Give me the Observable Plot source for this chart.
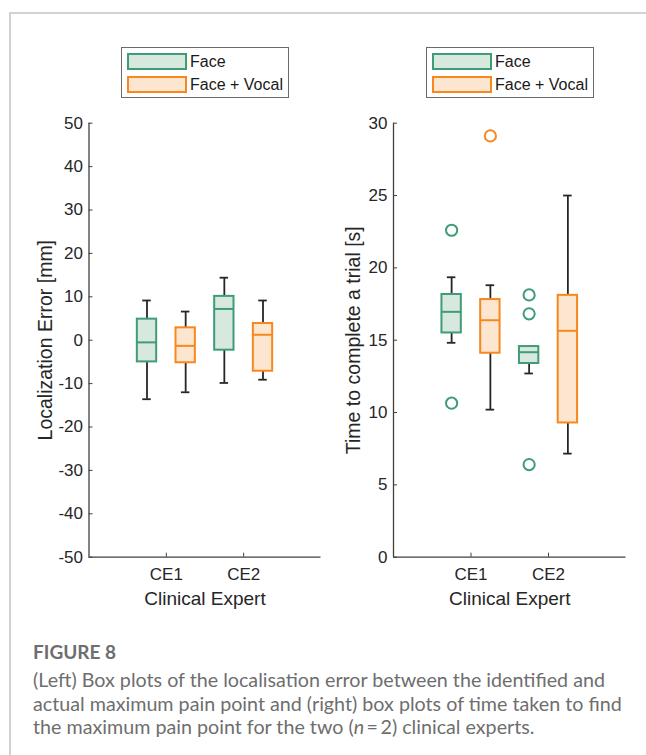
<!DOCTYPE html>
<html><head><meta charset="utf-8">
<script src="https://cdn.jsdelivr.net/npm/d3@7"></script>
<script src="https://cdn.jsdelivr.net/npm/@observablehq/plot@0.6"></script>
<style>
body{margin:0;background:#fff;}
#wrap{position:relative;width:646px;height:755px;overflow:hidden;font-family:"Liberation Sans",Arial,sans-serif;}
.frame{position:absolute;left:9px;top:12px;width:700px;height:800px;border-top:2px solid #d2d2d2;border-left:2px solid #d2d2d2;}
.panel{position:absolute;top:0;}
.legend{position:absolute;top:47px;width:168px;height:51px;border:1px solid #6a6a6a;background:#fff;box-sizing:border-box;}
.sw{position:absolute;left:5px;width:60px;height:17px;border:2px solid;box-sizing:border-box;}
.lt{position:absolute;left:68px;font-size:16px;line-height:17px;color:#1a1a1a;}
.cap{position:absolute;left:33px;top:640px;font-family:Lato,"Open Sans",sans-serif;color:#6e6e6e;}
.cap .fig{font-size:19px;font-weight:700;line-height:24px;margin-bottom:4px;}
.cap .txt{font-size:19.7px;line-height:23.5px;}
</style></head>
<body><div id="wrap"><div class="frame"></div></div>
<script>
// ---- data ----
const experts = ["CE1", "CE2"];
const conditions = ["Face", "Face + Vocal"];
const boxExpert = ["CE1", "CE1", "CE2", "CE2"];
const boxCondition = ["Face", "Face + Vocal", "Face", "Face + Vocal"];
// Localization error [mm]
const errLow  = [-13.6, -12.0, -9.85, -9.1];
const errQ1   = [-5.0, -5.2, -2.3, -7.15];
const errMed  = [-0.5, -1.3, 7.2, 1.25];
const errQ3   = [4.85, 2.85, 10.1, 3.85];
const errHigh = [9.15, 6.6, 14.4, 9.15];
// Time to complete a trial [s]
const timeLow  = [14.82, 10.2, 12.7, 7.16];
const timeQ1   = [15.5, 14.1, 13.39, 9.28];
const timeMed  = [16.96, 16.38, 14.17, 15.65];
const timeQ3   = [18.16, 17.81, 14.56, 18.1];
const timeHigh = [19.35, 18.8, 14.56, 25.0];
const timeOutExpert    = ["CE1", "CE1", "CE1", "CE2", "CE2", "CE2"];
const timeOutCondition = ["Face", "Face", "Face + Vocal", "Face", "Face", "Face"];
const timeOutValue     = [22.6, 10.65, 29.12, 18.13, 16.82, 6.4];
const errTicks  = [-50, -40, -30, -20, -10, 0, 10, 20, 30, 40, 50];
const timeTicks = [0, 5, 10, 15, 20, 25, 30];

// ---- style ----
const strokeCol = {"Face": "#3f9c76", "Face + Vocal": "#f7871e"};
const fillCol = {"Face": "#d7e8df", "Face + Vocal": "#fde6cf"};
const offset = {"Face": -0.25, "Face + Vocal": 0.25};
const bw = 0.125, capW = 0.055;
const whisk = "#262626", axisCol = "#404040";

function pos(e, c) { return experts.indexOf(e) + 1 + offset[c]; }

function panel(o) {
  const rows = boxExpert.map((e, i) => ({e, c: boxCondition[i], pos: pos(e, boxCondition[i]),
    low: o.low[i], q1: o.q1[i], med: o.med[i], q3: o.q3[i], high: o.high[i]}));
  const outs = (o.outE || []).map((e, i) => ({e, c: o.outC[i], pos: pos(e, o.outC[i]), v: o.outV[i]}));
  const xDom = [0, experts.length + 1];
  const marks = [
    Plot.ruleX(rows, {x: "pos", y1: "low", y2: "q1", stroke: whisk, strokeWidth: 1.8}),
    Plot.ruleX(rows, {x: "pos", y1: "q3", y2: "high", stroke: whisk, strokeWidth: 1.8}),
    Plot.ruleY(rows, {y: "low", x1: d => d.pos - capW, x2: d => d.pos + capW, stroke: whisk, strokeWidth: 1.8}),
    Plot.ruleY(rows, {y: "high", x1: d => d.pos - capW, x2: d => d.pos + capW, stroke: whisk, strokeWidth: 1.8})
  ];
  for (const c of conditions) {
    const r = rows.filter(d => d.c === c);
    marks.push(
      Plot.rect(r, {x1: d => d.pos - bw, x2: d => d.pos + bw, y1: "q1", y2: "q3", fill: fillCol[c], stroke: strokeCol[c], strokeWidth: 2}),
      Plot.ruleY(r, {y: "med", x1: d => d.pos - bw, x2: d => d.pos + bw, stroke: strokeCol[c], strokeWidth: 2}),
      Plot.dot(outs.filter(d => d.c === c), {x: "pos", y: "v", r: 5.6, stroke: strokeCol[c], strokeWidth: 2, fill: "none"})
    );
  }
  marks.push(
    Plot.ruleX([xDom[0]], {stroke: axisCol, strokeWidth: 1.3}),
    Plot.ruleY([o.ticks[0]], {stroke: axisCol, strokeWidth: 1.3}),
    Plot.axisY({ticks: o.ticks, tickSize: -4, tickPadding: 10, tickFormat: d => String(d), label: null, stroke: axisCol, fill: "#262626"}),
    Plot.axisX({ticks: experts.map((e, i) => i + 1), tickSize: -4, tickPadding: 15, tickFormat: d => experts[d - 1], label: null, stroke: axisCol, fill: "#262626"}),
    Plot.text(["Clinical Expert"], {frameAnchor: "bottom", lineAnchor: "top", dy: 34, fontSize: 19, fill: "#262626"}),
    Plot.text([o.ylabel], {frameAnchor: "left", textAnchor: "middle", rotate: -90, dx: o.labelDx, fontSize: 19.5, fill: "#262626"})
  );
  return Plot.plot({
    width: 323, height: 620,
    marginLeft: o.ml, marginRight: o.mr, marginTop: 122.7, marginBottom: 63.3,
    x: {domain: xDom, axis: null},
    y: {domain: [o.ticks[0], o.ticks[o.ticks.length - 1]], axis: null},
    style: {fontFamily: "'Liberation Sans', Arial, sans-serif", fontSize: "17px", background: "transparent", color: "#262626"},
    marks
  });
}

const wrap = document.getElementById("wrap");
function place(svg, left) {
  const d = document.createElement("div");
  d.className = "panel"; d.style.left = left + "px";
  d.appendChild(svg); wrap.appendChild(d);
}
place(panel({low: errLow, q1: errQ1, med: errMed, q3: errQ3, high: errHigh, ticks: errTicks,
  ylabel: "Localization Error [mm]", ml: 88.5, mr: 2.5, labelDx: -43}), 0);
place(panel({low: timeLow, q1: timeQ1, med: timeMed, q3: timeQ3, high: timeHigh, ticks: timeTicks,
  outE: timeOutExpert, outC: timeOutCondition, outV: timeOutValue,
  ylabel: "Time to complete a trial [s]", ml: 70, mr: 20.5, labelDx: -40}), 323);

function legend(left) {
  const L = document.createElement("div");
  L.className = "legend"; L.style.left = left + "px";
  conditions.forEach((c, i) => {
    const s = document.createElement("div");
    s.className = "sw"; s.style.top = (5 + i * 23) + "px";
    s.style.borderColor = strokeCol[c]; s.style.background = fillCol[c];
    const t = document.createElement("div");
    t.className = "lt"; t.style.top = (5 + i * 23) + "px"; t.textContent = c;
    L.appendChild(s); L.appendChild(t);
  });
  wrap.appendChild(L);
}
legend(121);
legend(426);

const capDiv = document.createElement("div");
capDiv.className = "cap";
capDiv.innerHTML = '<div class="fig">FIGURE 8</div><div class="txt">(Left) Box plots of the localisation error between the identified and<br>actual maximum pain point and (right) box plots of time taken to find<br>the maximum pain point for the two (<i>n</i>&#8201;=&#8201;2) clinical experts.</div>';
wrap.appendChild(capDiv);
</script></body></html>
